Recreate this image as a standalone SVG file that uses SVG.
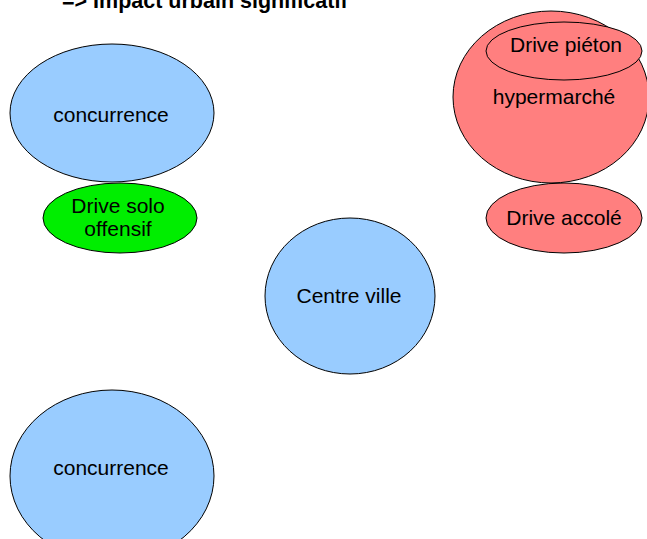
<svg xmlns="http://www.w3.org/2000/svg" width="647" height="539" viewBox="0 0 647 539">
<style>
.n{stroke:#000;stroke-width:1}
.blue{fill:#99ccff}
.red{fill:#ff7f7f}
.green{fill:#00ee00}
text{font-family:"Liberation Sans",Arial,sans-serif;font-size:21px;fill:#000;text-anchor:middle}
.title{font-weight:bold;font-size:21.5px;text-anchor:start}
</style>
<rect width="647" height="539" fill="#fff"/>
<text class="title" x="62" y="8">=&gt; Impact urbain significatif</text>
<g id="concurrence1"><ellipse class="n blue" cx="112" cy="113" rx="102" ry="69"/><text x="111" y="122">concurrence</text></g>
<g id="drive-solo"><ellipse class="n green" cx="120" cy="218" rx="77" ry="35"/><text x="118" y="213">Drive solo</text><text x="118" y="236">offensif</text></g>
<g id="hypermarche"><ellipse class="n red" cx="551" cy="97" rx="98" ry="86"/><text x="554" y="104">hypermarché</text></g>
<g id="drive-pieton"><ellipse class="n red" cx="564" cy="51" rx="78" ry="29"/><text x="566" y="52">Drive piéton</text></g>
<g id="drive-accole"><ellipse class="n red" cx="564" cy="218" rx="78" ry="35"/><text x="564" y="225">Drive accolé</text></g>
<g id="centre-ville"><ellipse class="n blue" cx="350" cy="296" rx="85" ry="78"/><text x="349" y="303">Centre ville</text></g>
<g id="concurrence2"><ellipse class="n blue" cx="112" cy="476" rx="102" ry="86"/><text x="111" y="475">concurrence</text></g>
<g id="connectors"></g>
</svg>
